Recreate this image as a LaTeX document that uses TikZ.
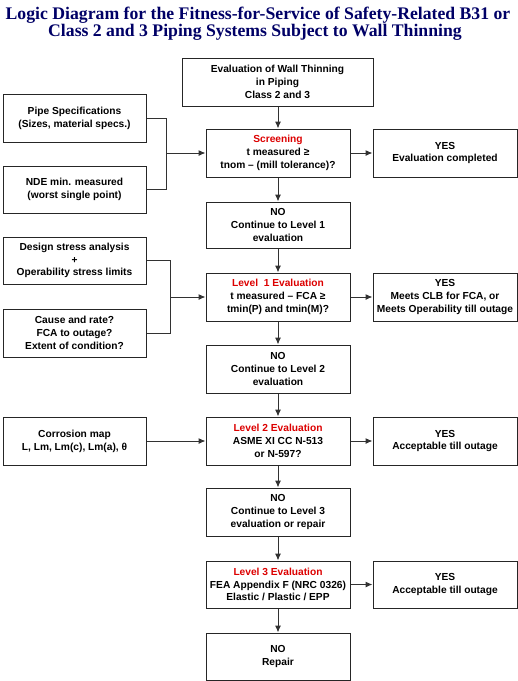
\documentclass[tikz,border=0pt]{standalone}
\usepackage{fontspec}
\setmainfont{Liberation Sans}
\newfontfamily\titlefont{Liberation Serif}
\usetikzlibrary{arrows.meta}
\definecolor{titleblue}{RGB}{0,0,102}
\definecolor{headred}{RGB}{220,0,0}
\definecolor{linegray}{RGB}{50,50,50}
\tikzset{
  box/.style={draw=black!85, line width=1pt, minimum height=48pt, inner sep=0pt,
    align=center, font=\fontsize{10.2}{12.8}\selectfont\bfseries},
  lbox/.style={box, minimum width=143pt},
  cbox/.style={box, minimum width=144pt},
  rbox/.style={box, minimum width=144pt},
  conn/.style={draw=linegray, line width=1pt},
  arr/.style={conn, -{Latex[length=7pt,width=6pt]}},
  ttl/.style={text=titleblue, font=\titlefont\fontsize{17.7}{18}\selectfont\bfseries, anchor=base, inner sep=0pt}
}
\begin{document}
\begin{tikzpicture}[x=1pt,y=-1pt]
\useasboundingbox (0,0) rectangle (518,681);
\node[ttl] (t1) at (258,19.5) {Logic Diagram for the Fitness-for-Service of Safety-Related B31 or};
\node[ttl] (t2) at (255,36) {Class 2 and 3 Piping Systems Subject to Wall Thinning};

\node[box, minimum width=191pt] (top) at (277.5,82) {Evaluation of Wall Thinning\\in Piping\\Class 2 and 3};
\node[lbox] (pipe) at (74.5,118) {Pipe Specifications\\(Sizes, material specs.)};
\node[lbox, minimum height=47pt] (nde) at (74.5,189.5) {NDE min. measured\\(worst single point)};
\node[cbox] (scr) at (278,153) {\textcolor{headred}{Screening}\\t measured ≥\\tnom – (mill tolerance)?};
\node[rbox] (yes1) at (445,153) {YES\\Evaluation completed};
\node[cbox, minimum height=46pt] (no1) at (278,225) {NO\\Continue to Level 1\\evaluation};

\node[lbox, minimum height=47pt] (design) at (74.5,260.5) {Design stress analysis\\+\\Operability stress limits};
\node[lbox] (cause) at (74.5,333) {Cause and rate?\\FCA to outage?\\Extent of condition?};
\node[cbox] (lev1) at (278,297) {\textcolor{headred}{Level\ \ 1 Evaluation}\\t measured – FCA ≥\\tmin(P) and tmin(M)?};
\node[rbox] (yes2) at (445,297) {YES\\Meets CLB for FCA, or\\Meets Operability till outage};
\node[cbox] (no2) at (278,369) {NO\\Continue to Level 2\\evaluation};

\node[lbox] (corr) at (74.5,441) {Corrosion map\\L, Lm, Lm(c), Lm(a), θ};
\node[cbox] (lev2) at (278,441) {\textcolor{headred}{Level 2 Evaluation}\\ASME XI CC N-513\\or N-597?};
\node[rbox] (yes3) at (445,441) {YES\\Acceptable till outage};
\node[cbox] (no3) at (278,512) {NO\\Continue to Level 3\\evaluation or repair};

\node[cbox, minimum height=47pt] (lev3) at (278,584.5) {\textcolor{headred}{Level 3 Evaluation}\\FEA Appendix F (NRC 0326)\\Elastic / Plastic / EPP};
\node[rbox, minimum height=47pt] (yes4) at (445,584.5) {YES\\Acceptable till outage};
\node[cbox, minimum height=47pt] (no4) at (278,656.5) {NO\\Repair};

\coordinate (j1) at (166,153);
\coordinate (j2) at (170,297);

\draw[arr] (top.south -| scr.north) -- (scr.north);
\draw[conn] (pipe.east) -| (j1);
\draw[conn] (nde.east) -| (j1);
\draw[arr] (j1) -- (scr.west);
\draw[arr] (scr.east) -- (yes1.west);
\draw[arr] (scr.south) -- (no1.north);
\draw[arr] (no1.south) -- (lev1.north);
\draw[conn] (design.east) -| (j2);
\draw[conn] (cause.east) -| (j2);
\draw[arr] (j2) -- (lev1.west);
\draw[arr] (lev1.east) -- (yes2.west);
\draw[arr] (lev1.south) -- (no2.north);
\draw[arr] (no2.south) -- (lev2.north);
\draw[arr] (corr.east) -- (lev2.west);
\draw[arr] (lev2.east) -- (yes3.west);
\draw[arr] (lev2.south) -- (no3.north);
\draw[arr] (no3.south) -- (lev3.north);
\draw[arr] (lev3.east) -- (yes4.west);
\draw[arr] (lev3.south) -- (no4.north);
\end{tikzpicture}
\end{document}
